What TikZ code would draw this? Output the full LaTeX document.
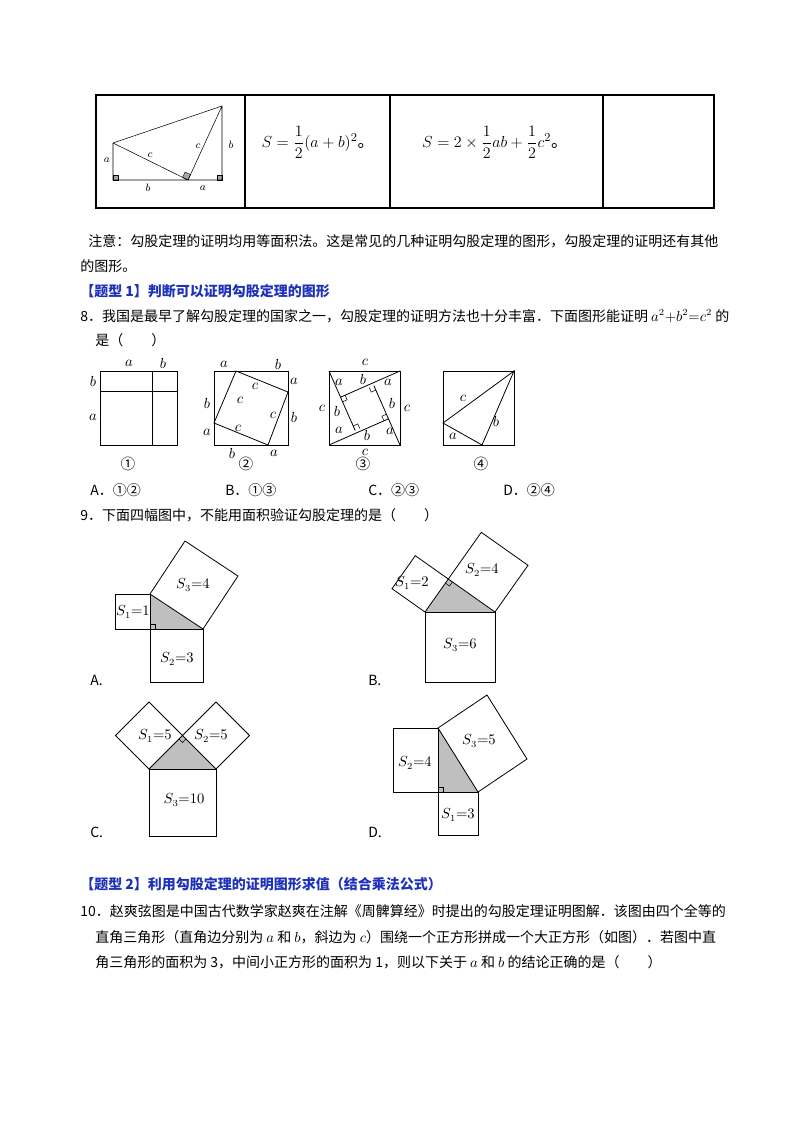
\documentclass[tikz,border=0pt]{standalone}
\usepackage{amsmath}
\usepackage{fontspec}
\setmainfont{Noto Sans CJK SC}
\definecolor{headblue}{RGB}{30,50,185}
\begin{document}
\begin{tikzpicture}[x=0.75pt,y=-0.75pt,
  ln/.style={draw=black,line width=0.6pt},
  txt/.style={anchor=west,inner sep=0pt,font=\fontsize{10.5}{12}\selectfont},
  lb/.style={inner sep=0pt,font=\fontsize{11}{12}\selectfont},
  sl/.style={inner sep=0pt,font=\fontsize{10.5}{12}\selectfont},
  head/.style={anchor=west,inner sep=0pt,font=\fontsize{10.5}{12}\selectfont\bfseries,text=headblue},
  tri/.style={fill=black!25}]
\useasboundingbox (0,0) rectangle (800,1132);
% table
\draw[ln,line width=0.8pt] (96,95) rectangle (714,208);
\foreach \x in {245,390,603} \draw[ln,line width=0.8pt] (\x,95) -- (\x,208);
\coordinate (T1) at (113,180); \coordinate (T2) at (188,180); \coordinate (T3) at (222,180);
\coordinate (T4) at (113,143); \coordinate (T5) at (222,106);
\fill[black!35,draw=black,line width=0.3pt] (113,180) rectangle (118,175);
\fill[black!35,draw=black,line width=0.3pt] (222,180) rectangle (217,175);
\fill[black!35,draw=black,line width=0.3pt,rotate around={-25:(188,180)}] (188,180) rectangle (182,174);
\draw[line width=0.4pt] (T1)--(T3)--(T5)--(T4)--cycle (T4)--(T2)--(T5);
\node[inner sep=0pt,font=\footnotesize] (ta) at (107,160) {$a$};
\node[inner sep=0pt,font=\footnotesize] (tb) at (148,188) {$b$};
\node[inner sep=0pt,font=\footnotesize] (ta2) at (203,188) {$a$};
\node[inner sep=0pt,font=\footnotesize] (tc) at (150,155) {$c$};
\node[inner sep=0pt,font=\footnotesize] (tc2) at (198,146) {$c$};
\node[inner sep=0pt,font=\footnotesize] (tb2) at (231,145) {$b$};
\node[inner sep=0pt,font=\fontsize{12.5}{14}\selectfont] (f1) at (318,142) {$S=\dfrac{1}{2}(a+b)^2$。};
\node[inner sep=0pt,font=\fontsize{12.5}{14}\selectfont] (f2) at (495,142) {$S=2\times\dfrac{1}{2}ab+\dfrac{1}{2}c^2$。};
% text
\node[txt] (n1) at (88,241) {注意：勾股定理的证明均用等面积法。这是常见的几种证明勾股定理的图形，勾股定理的证明还有其他};
\node[txt] (n2) at (80,266) {的图形。};
\node[head] (h1) at (80,291) {【题型 1】判断可以证明勾股定理的图形};
\node[txt] (q8) at (80,316) {8．我国是最早了解勾股定理的国家之一，勾股定理的证明方法也十分丰富．下面图形能证明 $a^2{+}b^2{=}c^2$ 的};
\node[txt] (q8b) at (95,340) {是（\hspace{2em}）};
% fig 1
\draw[ln] (100,371) rectangle (177,445);
\draw[ln] (152,371)--(152,445) (100,391)--(177,391);
\node[lb] (l1) at (129,363) {$a$}; \node[lb] (l2) at (163,363) {$b$};
\node[lb] (l3) at (93,381) {$b$}; \node[lb] (l4) at (93,417) {$a$};
% fig 2
\draw[ln] (214,371) rectangle (288,445);
\draw[ln] (236,371)--(288,392)--(268,445)--(214,423)--cycle;
\node[lb] at (224,364) {$a$}; \node[lb] at (278,364) {$b$};
\node[lb] at (294,381) {$a$}; \node[lb] at (294,417) {$b$};
\node[lb] at (207,403) {$b$}; \node[lb] at (207,432) {$a$};
\node[lb] at (232,453) {$b$}; \node[lb] at (274,453) {$a$};
\node[lb] at (255,386) {$c$}; \node[lb] at (273,415) {$c$};
\node[lb] at (240,400) {$c$}; \node[lb] at (238,428) {$c$};
% fig 3
\draw[ln] (329,371) rectangle (400,445);
\draw[ln] (329,445)--(388.5,418.8) (400,445)--(373.8,385.5) (400,371)--(340.5,397.2) (329,371)--(355.2,430.5);
\draw[line width=0.4pt] (388.5,418.8) ++(-4.6,2.0) -- ++(-2.0,-4.6) -- ++(4.6,-2.0);
\draw[line width=0.4pt] (373.8,385.5) ++(2.0,4.6) -- ++(-4.6,2.0) -- ++(-2.0,-4.6);
\draw[line width=0.4pt] (340.5,397.2) ++(4.6,-2.0) -- ++(2.0,4.6) -- ++(-4.6,2.0);
\draw[line width=0.4pt] (355.2,430.5) ++(-2.0,-4.6) -- ++(4.6,-2.0) -- ++(2.0,4.6);
\node[lb] at (365,362) {$c$}; \node[lb] at (365,452) {$c$};
\node[lb] at (322,408) {$c$}; \node[lb] at (407,408) {$c$};
\node[lb] at (339,382) {$a$}; \node[lb] at (363,379) {$b$}; \node[lb] at (388,382) {$a$};
\node[lb] at (392,403) {$b$}; \node[lb] at (390,431) {$a$}; \node[lb] at (367,435) {$b$};
\node[lb] at (339,430) {$a$}; \node[lb] at (337,411) {$b$};
% fig 4
\draw[ln] (443,371) rectangle (514,445);
\draw[ln] (514,371)--(443,423)--(482,445)--cycle;
\node[lb] at (463,398) {$c$}; \node[lb] at (453,436) {$a$}; \node[lb] at (496,421) {$b$};
\foreach \x/\s in {128/①,246/②,363/③,481/④} \node[inner sep=0pt,font=\fontsize{11}{12}\selectfont] at (\x,464) {\s};
\node[txt] (o1) at (90,490) {A．①②};
\node[txt] (o2) at (225,490) {B．①③};
\node[txt] (o3) at (368,490) {C．②③};
\node[txt] (o4) at (503,490) {D．②④};
\node[txt] (q9) at (80,515) {9．下面四幅图中，不能用面积验证勾股定理的是（\hspace{2em}）};
% fig A
\fill[tri] (150,594)--(203,629)--(150,629)--cycle;
\draw[ln] (115,594) rectangle (150,629);
\draw[ln] (150,629) rectangle (203,682);
\draw[ln] (150,594)--(203,629)--(238,576)--(185,541)--cycle;
\draw[line width=0.4pt] (150,624)--(155,624)--(155,629);
\node[sl] at (133,612) {$S_1{=}1$}; \node[sl] at (193,585) {$S_3{=}4$}; \node[sl] at (177,659) {$S_2{=}3$};
\node[txt] at (90,680) {A.};
% fig B
\fill[tri] (425,612)--(448.3,579)--(495,612)--cycle;
\draw[ln] (425,612)--(448.3,579)--(415.3,555.7)--(392,588.7)--cycle;
\draw[ln] (448.3,579)--(495,612)--(528,565.3)--(481.3,532.3)--cycle;
\draw[ln] (425,612) rectangle (495,682);
\draw[line width=0.4pt] (448.3,579) ++(-2.9,4.1) -- ++(4.1,2.9) -- ++(2.9,-4.1);
\node[sl] at (412,583) {$S_1{=}2$}; \node[sl] at (482,570) {$S_2{=}4$}; \node[sl] at (460,645) {$S_3{=}6$};
\node[txt] at (368,680) {B.};
% fig C
\fill[tri] (149,769)--(182.5,735.5)--(216,769)--cycle;
\draw[ln] (149,769)--(182.5,735.5)--(149,702)--(115.5,735.5)--cycle;
\draw[ln] (182.5,735.5)--(216,769)--(249.5,735.5)--(216,702)--cycle;
\draw[ln] (149,769) rectangle (216,836);
\draw[line width=0.4pt] (182.5,735.5) ++(-3.5,3.5) -- ++(3.5,3.5) -- ++(3.5,-3.5);
\node[sl] at (155,736) {$S_1{=}5$}; \node[sl] at (211,736) {$S_2{=}5$}; \node[sl] at (184,800) {$S_3{=}10$};
\node[txt] at (90,832) {C.};
% fig D
\fill[tri] (438,728)--(478,792)--(438,792)--cycle;
\draw[ln] (393,728) rectangle (438,792);
\draw[ln] (438,792) rectangle (478,835);
\draw[ln] (438,728)--(478,792)--(527,759)--(487,695)--cycle;
\draw[line width=0.4pt] (438,787)--(443,787)--(443,792);
\node[sl] at (415,763) {$S_2{=}4$}; \node[sl] at (479,741) {$S_3{=}5$}; \node[sl] at (458,815) {$S_1{=}3$};
\node[txt] at (368,832) {D.};
% section 2
\node[head] (h2) at (80,884) {【题型 2】利用勾股定理的证明图形求值（结合乘法公式）};
\node[txt] (q10) at (80,911) {10．赵爽弦图是中国古代数学家赵爽在注解《周髀算经》时提出的勾股定理证明图解．该图由四个全等的};
\node[txt] (q10b) at (95,937) {直角三角形（直角边分别为 $a$ 和 $b$，斜边为 $c$）围绕一个正方形拼成一个大正方形（如图）．若图中直};
\node[txt] (q10c) at (95,962) {角三角形的面积为 3，中间小正方形的面积为 1，则以下关于 $a$ 和 $b$ 的结论正确的是（\hspace{2em}）};
\end{tikzpicture}
\end{document}
